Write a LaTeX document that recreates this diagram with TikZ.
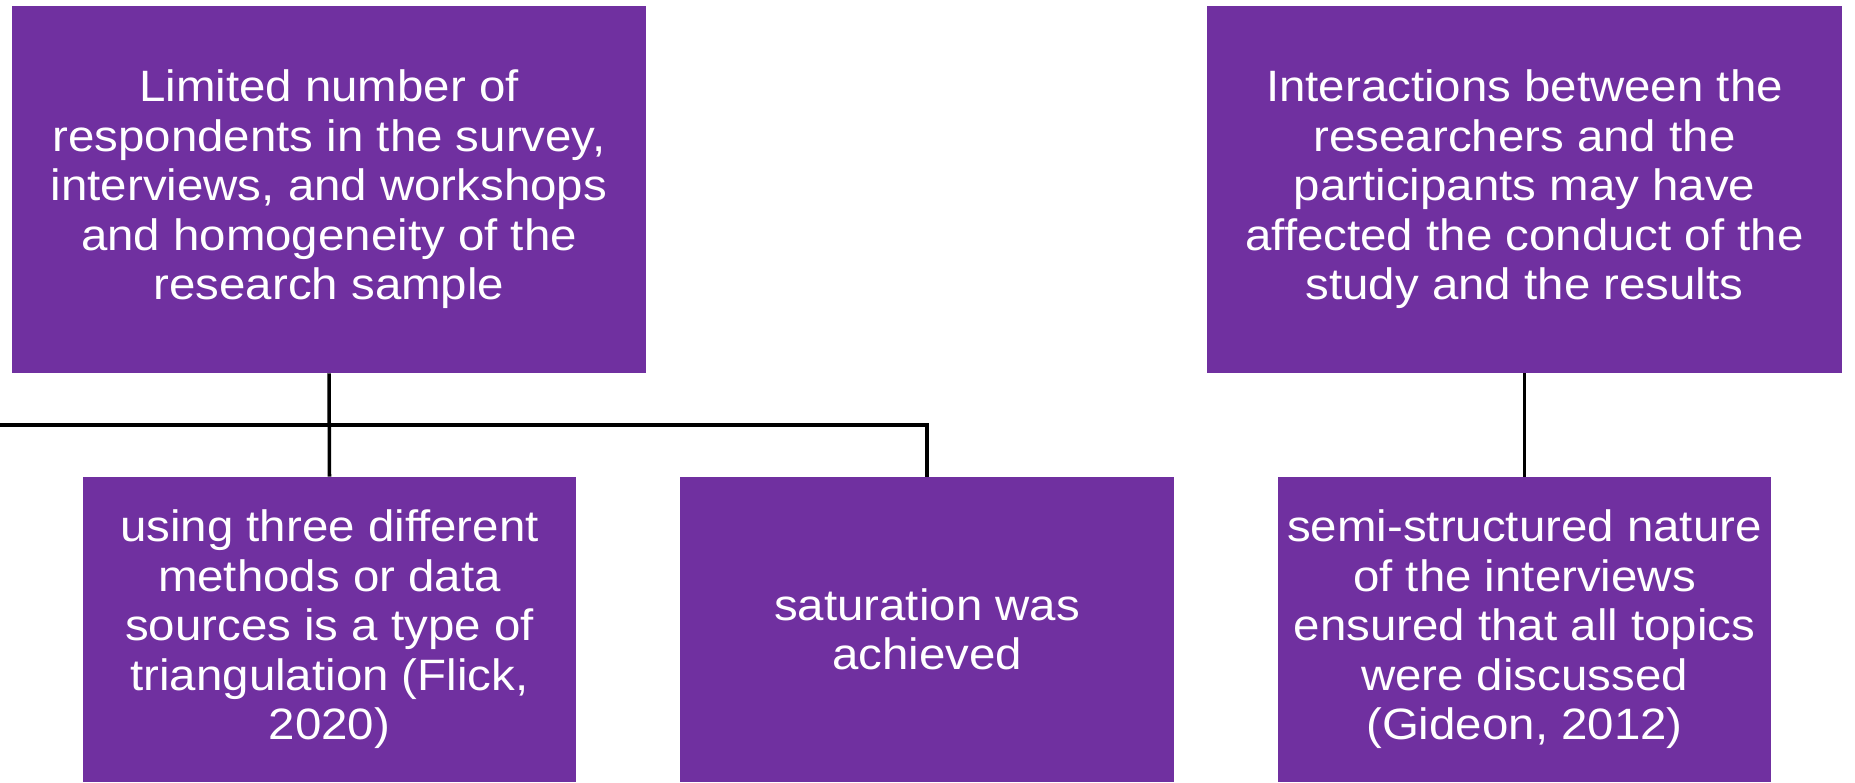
\documentclass[tikz,border=0pt]{standalone}
\usepackage{fontspec}
\setmainfont{Liberation Sans}[FakeStretch=1.08]
\usepackage{tikz}
\definecolor{limitpurple}{HTML}{7030A0}

\begin{document}
\begin{tikzpicture}[x=0.02cm,y=-0.02cm,
  limitbox/.style={fill=limitpurple,text=white,align=center,inner sep=0pt,
    font=\fontsize{25}{28.2}\selectfont},
  topbox/.style={limitbox,minimum width=12.7cm,minimum height=7.34cm},
  subbox/.style={limitbox,minimum width=9.88cm,minimum height=6.1cm},
  link/.style={black,line width=2pt}]
  \useasboundingbox (0,0) rectangle (1855,782);
  %\fill[white] (0,0) rectangle (1855,782);
  \node[topbox] (sample) at (329,189.5) {Limited number of\\respondents in the survey,\\interviews, and workshops\\and homogeneity of the\\research sample};
  \node[topbox] (interact) at (1524.5,189.5) {Interactions between the\\researchers and the\\participants may have\\affected the conduct of the\\study and the results};
  \node[subbox] (triang) at (329.5,629.5) {using three different\\methods or data\\sources is a type of\\triangulation (Flick,\\2020)};
  \node[subbox] (satur) at (927,629.5) {saturation was\\achieved};
  \node[subbox] (semi) at (1524.5,629.5) {semi-structured nature\\of the interviews\\ensured that all topics\\were discussed\\(Gideon, 2012)};
  \coordinate (bus) at (0,425);

  \draw[link] (sample.south) -- (triang.north);
  \draw[link] (bus) -- (bus -| satur.north) -- (satur.north);
  \draw[link] (interact.south) -- (semi.north);

\end{tikzpicture}
\end{document}
